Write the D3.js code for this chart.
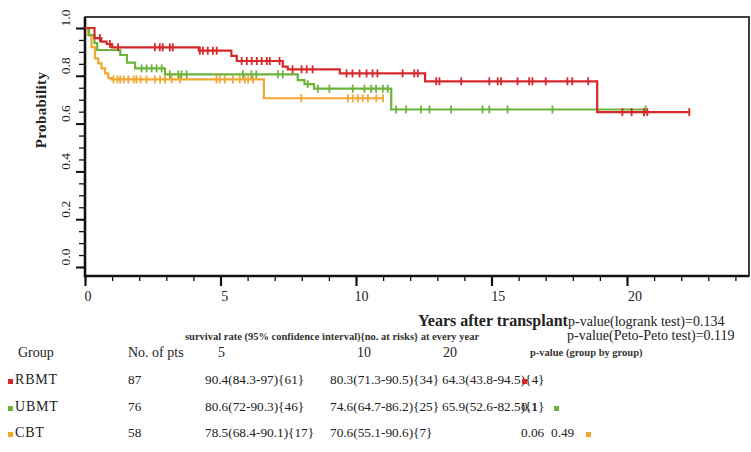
<!DOCTYPE html>
<html>
<head>
<meta charset="utf-8">
<script src="https://cdn.jsdelivr.net/npm/d3@7"></script>
<style>
body { margin: 0; background: #fff; }
svg { font-family: "Liberation Serif", "Times New Roman", serif; }
</style>
</head>
<body>
<div class="kmPlot"></div>
<script>
var w = 751;
var h = 452;

// Kaplan-Meier steps (years, survival)
var rbmtTime = [0, 0.35, 0.6, 0.8, 1.0, 4.2, 5.4, 5.6, 7.3, 7.48, 9.4, 12.55, 18.9, 22.3];
var rbmtSurv = [1, 0.958, 0.943, 0.933, 0.919, 0.905, 0.883, 0.862, 0.838, 0.827, 0.81, 0.777, 0.648, 0.648];
var ubmtTime = [0, 0.15, 0.35, 0.45, 1.3, 1.55, 1.85, 2.95, 7.85, 8.1, 8.45, 11.3, 20.7];
var ubmtSurv = [1, 0.97, 0.937, 0.908, 0.887, 0.855, 0.831, 0.806, 0.782, 0.765, 0.746, 0.659, 0.659];
var cbtTime = [0, 0.1, 0.24, 0.37, 0.49, 0.61, 0.74, 0.86, 0.98, 6.6, 11.0];
var cbtSurv = [1, 0.97, 0.92, 0.873, 0.852, 0.831, 0.81, 0.79, 0.785, 0.706, 0.706];

// censored observations (years)
var rbmtCens = [0.55, 0.92, 1.22, 2.58, 2.76, 2.87, 3.13, 3.24, 4.24, 4.35, 4.53, 4.72, 4.86, 5.78, 5.97, 6.15, 6.34,
  6.52, 6.71, 6.82, 7.18, 7.66, 7.99, 8.18, 8.40, 9.65, 9.87, 10.13, 10.39, 10.61, 10.79, 11.72, 12.15, 12.28,
  12.96, 13.08, 13.88, 14.92, 15.23, 15.35, 15.96, 16.39, 16.51, 17.0, 17.8, 17.98, 18.57, 19.83, 20.17, 20.63,
  20.75, 22.3];
var ubmtCens = [2.09, 2.27, 2.46, 2.64, 2.83, 3.13, 3.44, 3.56, 3.75, 5.83, 6.14, 6.32, 7.12, 7.30, 8.22, 8.59,
  9.02, 9.88, 10.31, 10.56, 10.74, 10.99, 11.17, 11.48, 11.85, 12.40, 12.71, 13.51, 14.67, 14.92, 15.59, 17.25, 20.69];
var cbtCens = [1.05, 1.2, 1.3, 1.43, 1.6, 1.8, 1.9, 2.05, 2.27, 2.58, 2.77, 2.95, 3.2, 3.5, 4.85, 4.97, 5.16, 5.46,
  5.71, 5.9, 6.02, 6.2, 7.98, 9.7, 9.88, 10.07, 10.25, 10.44, 10.75, 11.0];

// table
var groups = ["RBMT", "UBMT", "CBT"];
var colors = ["#d6272b", "#6cb33c", "#f3a733"];
var nPts = [87, 76, 58];
var rate5 = ["90.4(84.3-97){61}", "80.6(72-90.3){46}", "78.5(68.4-90.1){17}"];
var rate10 = ["80.3(71.3-90.5){34}", "74.6(64.7-86.2){25}", "70.6(55.1-90.6){7}"];
var rate20 = ["64.3(43.8-94.5){4}", "65.9(52.6-82.5){1}", ""];
var pvalCol1 = ["", "0.1", "0.06"];
var pvalCol2 = ["", "", "0.49"];

var svg = d3.select(".kmPlot")
  .append("svg")
  .attr("width", w)
  .attr("height", h);

var xScale = d3.scaleLinear().domain([0, 20]).range([85, 627]);
var yScale = d3.scaleLinear().domain([0, 1]).range([267, 28]);

// frame
svg.append("rect")
  .attr("x", 85).attr("y", 17)
  .attr("width", 664).attr("height", 259)
  .attr("fill", "none").attr("stroke", "#111").attr("stroke-width", 1.6);

// y axis: minor + major ticks
svg.append("g")
  .attr("transform", "translate(85,0)")
  .call(d3.axisLeft(yScale).tickValues(d3.range(0, 1.001, 0.05)).tickSize(6).tickFormat(""))
  .call(g => g.select(".domain").remove())
  .selectAll("line").attr("stroke", "#111").attr("stroke-width", 1.3);
svg.append("g")
  .attr("transform", "translate(85,0)")
  .call(d3.axisLeft(yScale).tickValues(d3.range(0, 1.001, 0.2)).tickSize(9).tickFormat(""))
  .call(g => g.select(".domain").remove())
  .selectAll("line").attr("stroke", "#111").attr("stroke-width", 2);
svg.append("line")
  .attr("x1", 85).attr("x2", 85).attr("y1", 17).attr("y2", 277)
  .attr("stroke", "#111").attr("stroke-width", 2.6);

svg.selectAll(".ylab")
  .data(d3.range(0, 1.001, 0.2))
  .enter().append("text")
  .attr("class", "ylab")
  .attr("transform", (d) => "translate(70," + (yScale(d) - 10) + ") rotate(-90)")
  .attr("text-anchor", "middle")
  .attr("font-size", 13.5)
  .attr("fill", "#222")
  .text(d3.format(".1f"));

// x axis
svg.append("g")
  .attr("transform", "translate(0,276)")
  .call(d3.axisBottom(xScale).tickValues(d3.range(0, 25, 1)).tickSize(5).tickFormat(""))
  .call(g => g.select(".domain").remove())
  .selectAll("line").attr("stroke", "#111").attr("stroke-width", 1.3);
svg.append("g")
  .attr("transform", "translate(0,276)")
  .call(d3.axisBottom(xScale).tickValues([0, 5, 10, 15, 20]).tickSize(10).tickFormat(""))
  .call(g => g.select(".domain").remove())
  .selectAll("line").attr("stroke", "#111").attr("stroke-width", 2.2);
svg.append("line")
  .attr("x1", 84).attr("x2", 749).attr("y1", 276).attr("y2", 276)
  .attr("stroke", "#111").attr("stroke-width", 2.6);

svg.selectAll(".xlab")
  .data([0, 5, 10, 15, 20])
  .enter().append("text")
  .attr("class", "xlab")
  .attr("x", (d) => xScale(d) + 3 + d * 0.25)
  .attr("y", 301)
  .attr("text-anchor", "middle")
  .attr("font-size", 14)
  .attr("fill", "#222")
  .text((d) => d);

// axis titles
svg.append("text")
  .attr("transform", "translate(46,110) rotate(-90)")
  .attr("text-anchor", "middle")
  .attr("font-size", 15)
  .attr("font-weight", "bold")
  .attr("letter-spacing", 0.4)
  .attr("fill", "#222")
  .text("Probability");

svg.append("text")
  .attr("x", 418).attr("y", 326)
  .attr("font-size", 16)
  .attr("font-weight", "bold")
  .attr("fill", "#222")
  .text("Years after transplant");

svg.append("text")
  .attr("x", 568).attr("y", 326)
  .attr("font-size", 14)
  .attr("fill", "#222")
  .text("p-value(logrank test)=0.134");
svg.append("text")
  .attr("x", 567).attr("y", 340)
  .attr("font-size", 14)
  .attr("fill", "#222")
  .text("p-value(Peto-Peto test)=0.119");

// curves
var series = [
  {time: rbmtTime, surv: rbmtSurv, cens: rbmtCens, color: colors[0]},
  {time: ubmtTime, surv: ubmtSurv, cens: ubmtCens, color: colors[1]},
  {time: cbtTime, surv: cbtSurv, cens: cbtCens, color: colors[2]}
];

var line = d3.line()
  .x((d) => xScale(d[0]))
  .y((d) => yScale(d[1]))
  .curve(d3.curveStepAfter);

function survAt(s, t) {
  var i = d3.bisectRight(s.time, t) - 1;
  return s.surv[Math.max(0, i)];
}

// draw in reverse so red sits on top
series.slice().reverse().forEach(function(s) {
  var pts = s.time.map((t, i) => [t, s.surv[i]]);
  svg.append("path")
    .attr("d", line(pts))
    .attr("fill", "none")
    .attr("stroke", s.color)
    .attr("stroke-width", 2.2);
  svg.selectAll(null)
    .data(s.cens)
    .enter().append("line")
    .attr("x1", (d) => xScale(d)).attr("x2", (d) => xScale(d))
    .attr("y1", (d) => yScale(survAt(s, d)) - 4)
    .attr("y2", (d) => yScale(survAt(s, d)) + 4)
    .attr("stroke", s.color)
    .attr("stroke-width", 1.8);
});

// table header
svg.append("text")
  .attr("x", 185).attr("y", 340)
  .attr("font-size", 10.5)
  .attr("font-weight", "bold")
  .attr("fill", "#333")
  .text("survival rate (95%  confidence interval){no. at risks} at every year");

var header = [["Group", 18], ["No. of pts", 128], ["5", 218], ["10", 357], ["20", 443]];
header.forEach(function(hd) {
  svg.append("text")
    .attr("x", hd[1]).attr("y", 357)
    .attr("font-size", 14)
    .attr("fill", "#222")
    .text(hd[0]);
});
svg.append("text")
  .attr("x", 530).attr("y", 356)
  .attr("font-size", 10.5)
  .attr("font-weight", "bold")
  .attr("fill", "#333")
  .text("p-value (group by group)");

var rowY = [384, 411, 437];
groups.forEach(function(g, i) {
  var yy = rowY[i];
  svg.append("rect")
    .attr("x", 8).attr("y", yy - 5).attr("width", 5).attr("height", 5)
    .attr("fill", colors[i]);
  svg.append("text")
    .attr("x", 15).attr("y", yy)
    .attr("font-size", 14)
    .attr("letter-spacing", 0.8)
    .attr("fill", "#222")
    .text(g);
  var cells = [[nPts[i], 128], [rate5[i], 205], [rate10[i], 330], [rate20[i], 442], [pvalCol1[i], 521], [pvalCol2[i], 551]];
  cells.forEach(function(c) {
    svg.append("text")
      .attr("x", c[1]).attr("y", yy)
      .attr("font-size", 13.3)
      .attr("fill", "#222")
      .text(c[0]);
  });
  // diagonal marker of the p-value matrix
  svg.append("rect")
    .attr("x", 522 + i * 32).attr("y", yy - 5).attr("width", 5).attr("height", 5)
    .attr("fill", colors[i]);
});
</script>
</body>
</html>
